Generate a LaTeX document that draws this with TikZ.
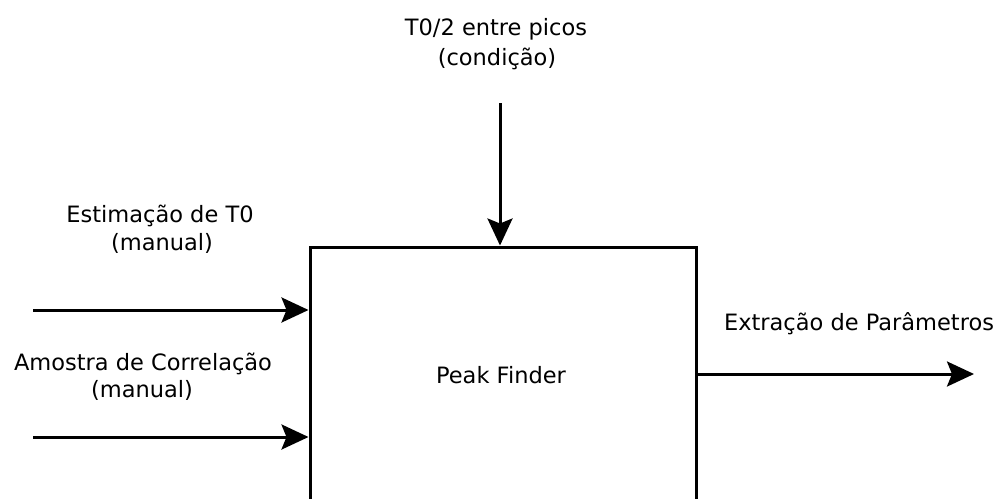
\documentclass[tikz,border=0pt]{standalone}
\usepackage{fontspec}
\setmainfont{DejaVu Sans}
\usetikzlibrary{arrows.meta}
\begin{document}
\begin{tikzpicture}[x=1pt,y=-1pt,
  lbl/.style={inner sep=0pt,font=\fontsize{22.5}{28}\selectfont},
  blk/.style={draw=black,line width=3pt,fill=white,minimum width=386pt,minimum height=293pt,inner sep=0pt},
  arr/.style={line width=3pt,-{Stealth[length=27pt,width=25pt,inset=5pt]}}]
\useasboundingbox (0,0) rectangle (1003,498);
\clip (0,0) rectangle (1003,498);
\node[blk] (box) at (503,393.5) {};
\node[lbl,anchor=base] (pf) at (501,383) {Peak Finder};
\node[lbl,anchor=base] (t1) at (496,35) {T0/2 entre picos};
\node[lbl,anchor=base] (t2) at (497,65) {(condição)};
\node[lbl,anchor=base] (e1) at (160,222) {Estimação de T0};
\node[lbl,anchor=base] (e2) at (162,250) {(manual)};
\node[lbl,anchor=base] (a1) at (143,370) {Amostra de Correlação};
\node[lbl,anchor=base] (a2) at (142,397) {(manual)};
\node[lbl,anchor=base] (x1) at (859,330) {Extração de Parâmetros};
\coordinate (top) at (500,103);
\coordinate (in1) at (33,310);
\coordinate (in2) at (33,437);
\coordinate (out) at (974,374);
\draw[arr] (top) -- (top |- box.north);
\draw[arr] (in1) -- (box.west |- in1);
\draw[arr] (in2) -- (box.west |- in2);
\draw[arr] (box.east |- out) -- (out);
\end{tikzpicture}
\end{document}
